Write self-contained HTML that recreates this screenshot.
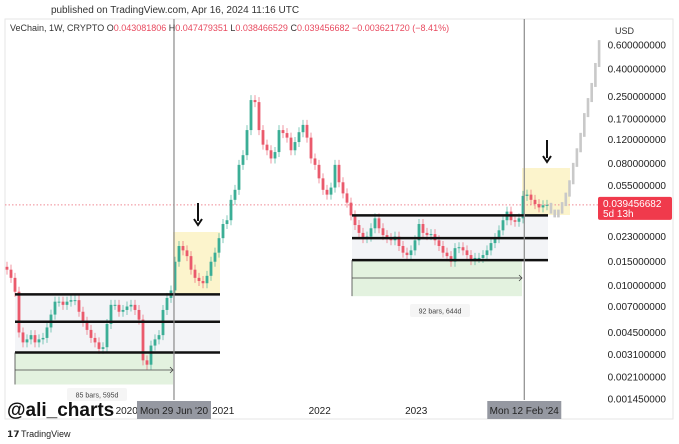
<!DOCTYPE html>
<html><head><meta charset="utf-8"><style>
body{margin:0;background:#fff;font-family:"Liberation Sans",sans-serif;}
svg{display:block}
</style></head><body>
<svg width="679" height="444" viewBox="0 0 679 444" font-family="Liberation Sans, sans-serif">
<text x="175" y="13" font-size="10" fill="#333" text-anchor="middle">published on TradingView.com, Apr 16, 2024 11:16 UTC</text>
<rect x="5" y="19" width="668" height="400" fill="#fff" stroke="#e6e6e6"/>
<g id="bg"></g>
<g id="candles"></g>
<g id="over"></g>
<g id="axis"></g>
<text x="10" y="31" font-size="9" fill="#333">VeChain, 1W, CRYPTO <tspan>O</tspan><tspan fill="#e84a5f">0.043081806</tspan> H<tspan fill="#e84a5f">0.047479351</tspan> L<tspan fill="#e84a5f">0.038466529</tspan> C<tspan fill="#e84a5f">0.039456682 −0.003621720 (−8.41%)</tspan></text>
<rect x="600" y="21" width="70" height="18" fill="#fff"/>
<text x="615" y="34" font-size="9" fill="#333">USD</text>
<text x="7" y="416" font-size="19" font-weight="bold" fill="#111">@ali_charts</text>
<text x="7" y="437" font-size="9" font-weight="bold" fill="#222">𝟭𝟳</text>
<text x="21" y="437" font-size="9" fill="#222">TradingView</text>
</svg>
<script>
const closes=[0.0131,0.0114,0.0090,0.0045,0.0038,0.0040,0.0043,0.0038,0.0040,0.0041,0.0049,0.0061,0.0076,0.0076,0.0072,0.0076,0.0078,0.0078,0.0064,0.0054,0.0047,0.0041,0.0038,0.0034,0.0035,0.0052,0.0072,0.0072,0.0064,0.0066,0.0070,0.0072,0.0066,0.0056,0.0028,0.0026,0.0036,0.0040,0.0043,0.0066,0.0081,0.0092,0.0150,0.0196,0.0182,0.0165,0.0131,0.0114,0.0108,0.0104,0.0118,0.0150,0.0175,0.0224,0.0285,0.0304,0.043,0.051,0.078,0.092,0.141,0.235,0.227,0.141,0.110,0.100,0.087,0.097,0.141,0.134,0.124,0.100,0.115,0.136,0.154,0.124,0.087,0.078,0.062,0.051,0.047,0.053,0.078,0.058,0.048,0.041,0.033,0.028,0.0245,0.0224,0.023,0.0265,0.0314,0.0265,0.0236,0.0224,0.0216,0.023,0.0196,0.0175,0.0168,0.0182,0.0216,0.0285,0.0245,0.0236,0.024,0.0216,0.0196,0.0175,0.0165,0.0150,0.0189,0.0192,0.0182,0.0168,0.0154,0.0160,0.0160,0.0168,0.0182,0.0206,0.0224,0.0256,0.0304,0.0352,0.0304,0.0296,0.0314,0.046,0.047,0.043,0.040,0.0378,0.0392,0.0395];
const projection=[0.0352,0.033,0.0352,0.040,0.047,0.058,0.078,0.100,0.130,0.182,0.235,0.304,0.427,0.63];
const priceTicks=[0.6,0.4,0.25,0.17,0.12,0.08,0.055,0.023,0.015,0.01,0.007,0.0045,0.0031,0.0021,0.00145];
const tickText=["0.600000000","0.400000000","0.250000000","0.170000000","0.120000000","0.080000000","0.055000000","0.023000000","0.015000000","0.010000000","0.007000000","0.004500000","0.003100000","0.002100000","0.001450000"];
const years=[2020,2021,2022,2023];
const range1=[0.0086,0.0054,0.0032];
const range2=[0.033,0.0224,0.0154];
const lastPrice=0.039456682;
const markers=[[2020.49,"Mon 29 Jun '20"],[2024.12,"Mon 12 Feb '24"]];

const NS="http://www.w3.org/2000/svg";
const y=p=>45+58.75*Math.log(0.6/p);
const xt=t=>126.7+(t-2020)*96.5;
const xi=i=>7+i*4;
function mk(par,tag,at){const e=document.createElementNS(NS,tag);for(const k in at)e.setAttribute(k,at[k]);document.getElementById(par).appendChild(e);return e;}

let e;
e=mk('bg','rect',{x:15,y:y(range1[0]),width:205,height:y(range1[2])-y(range1[0]),fill:'#f3f4f7'});


e=mk('bg','rect',{x:352,y:y(range2[0]),width:196,height:y(range2[2])-y(range2[0]),fill:'#f3f4f7'});


e=mk('bg','rect',{x:15,y:y(range1[2]),width:158,height:32,fill:'#e3f2df'});


e=mk('bg','rect',{x:352,y:y(range2[2]),width:170,height:36,fill:'#e3f2df'});


e=mk('bg','rect',{x:173,y:232,width:47,height:y(range1[0])-232,fill:'#fcf4cc'});


e=mk('bg','rect',{x:522,y:168,width:48,height:47,fill:'#fcf4cc'});


e=mk('bg','line',{x1:5,x2:598,y1:y(lastPrice),y2:y(lastPrice),stroke:'#f08a95','stroke-dasharray':'1.5,2','stroke-width':1});



for(let i=0;i<closes.length;i++){
  const c=closes[i],o=i?closes[i-1]:c*1.05;
  const up=c>=o,col=up?'#3bae96':'#ea5a6c';
  const x=xi(i),top=Math.min(y(o),y(c)),bot=Math.max(y(o),y(c));
  const w=mk('candles','line',{x1:x,x2:x,y1:top-5,y2:bot+5,stroke:col,'stroke-width':0.8,opacity:0.8});
  
  
  const b=mk('candles','rect',{x:x-1.4,y:top,width:2.8,height:Math.max(1,bot-top),fill:col});
  
  
}
for(let i=0;i<projection.length;i++){
  const c=projection[i],o=i?projection[i-1]:closes[closes.length-1];
  const x=551+i*3.7,top=Math.min(y(o),y(c)),bot=Math.max(y(o),y(c));
  const b=mk('candles','rect',{x:x-1.3,y:top-2,width:2.6,height:Math.max(1,bot-top)+4,fill:'#c9c9c9'});
  
  
}

range1.forEach(p=>{const l=mk('over','line',{x1:15,x2:220,y1:y(p),y2:y(p),stroke:'#111','stroke-width':2.5});
  
  });
range2.forEach(p=>{const l=mk('over','line',{x1:352,x2:548,y1:y(p),y2:y(p),stroke:'#111','stroke-width':2.5});
  
  });
[[15,173,y(range1[2]),370,32],[352,522,y(range2[2]),278,36]].forEach(a=>{
  let l=mk('over','line',{x1:a[0],x2:a[1],y1:a[3],y2:a[3],stroke:'#444','stroke-width':0.8});
  
  
  l=mk('over','path',{d:`M${a[1]-3},${a[3]-3}L${a[1]},${a[3]}L${a[1]-3},${a[3]+3}`,stroke:'#444',fill:'none','stroke-width':0.8});
  
  
  l=mk('over','line',{x1:a[0],x2:a[0],y1:a[2],y2:a[2]+a[4],stroke:'#444','stroke-width':0.8});
  
  
});
[[67,388,'85 bars, 595d'],[410,304,'92 bars, 644d']].forEach(a=>{
  const r=mk('over','rect',{x:a[0],y:a[1],width:60,height:13,fill:'#f5f5f5',rx:2});
  
  
  const t=mk('over','text',{x:a[0]+30,y:a[1]+9.5,'font-size':7,fill:'#444','text-anchor':'middle'});
  t.textContent=a[2];
  
  
});
[[198,203,225],[547,140,162]].forEach(a=>{
  let l=mk('over','line',{x1:a[0],x2:a[0],y1:a[1],y2:a[2]-4,stroke:'#111','stroke-width':2});
  
  
  l=mk('over','path',{d:`M${a[0]-4},${a[2]-6}L${a[0]},${a[2]}L${a[0]+4},${a[2]-6}`,stroke:'#111',fill:'none','stroke-width':2});
  
  
});
markers.forEach(m=>{const l=mk('over','line',{x1:xt(m[0]),x2:xt(m[0]),y1:19,y2:400,stroke:'#8a8a8a','stroke-width':1.2});
  
  });

priceTicks.forEach((p,i)=>{const t=mk('axis','text',{x:666,y:y(p)+3.5,'font-size':10,fill:'#222','text-anchor':'end'});
  t.textContent=tickText[i];
  
  });
years.forEach(yr=>{const t=mk('axis','text',{x:xt(yr),y:414,'font-size':10,fill:'#222','text-anchor':'middle'});
  t.textContent=yr;
  
  });
markers.forEach(m=>{const x=xt(m[0]);
  const r=mk('axis','rect',{x:x-37,y:401,width:74,height:18,fill:'#9598a1'});
  
  
  const t=mk('axis','text',{x:x,y:414,'font-size':10,fill:'#222','text-anchor':'middle'});
  t.textContent=m[1];
  
  });
const py=y(lastPrice);
e=mk('axis','rect',{x:598,y:py-8,width:74,height:23,fill:'#f03a4c',rx:2});


e=mk('axis','text',{x:603,y:py+2,'font-size':10,fill:'#fff'});e.textContent='0.039456682';


e=mk('axis','text',{x:603,y:py+12,'font-size':10,fill:'#fff'});e.textContent='5d 13h';


</script>
</body></html>
